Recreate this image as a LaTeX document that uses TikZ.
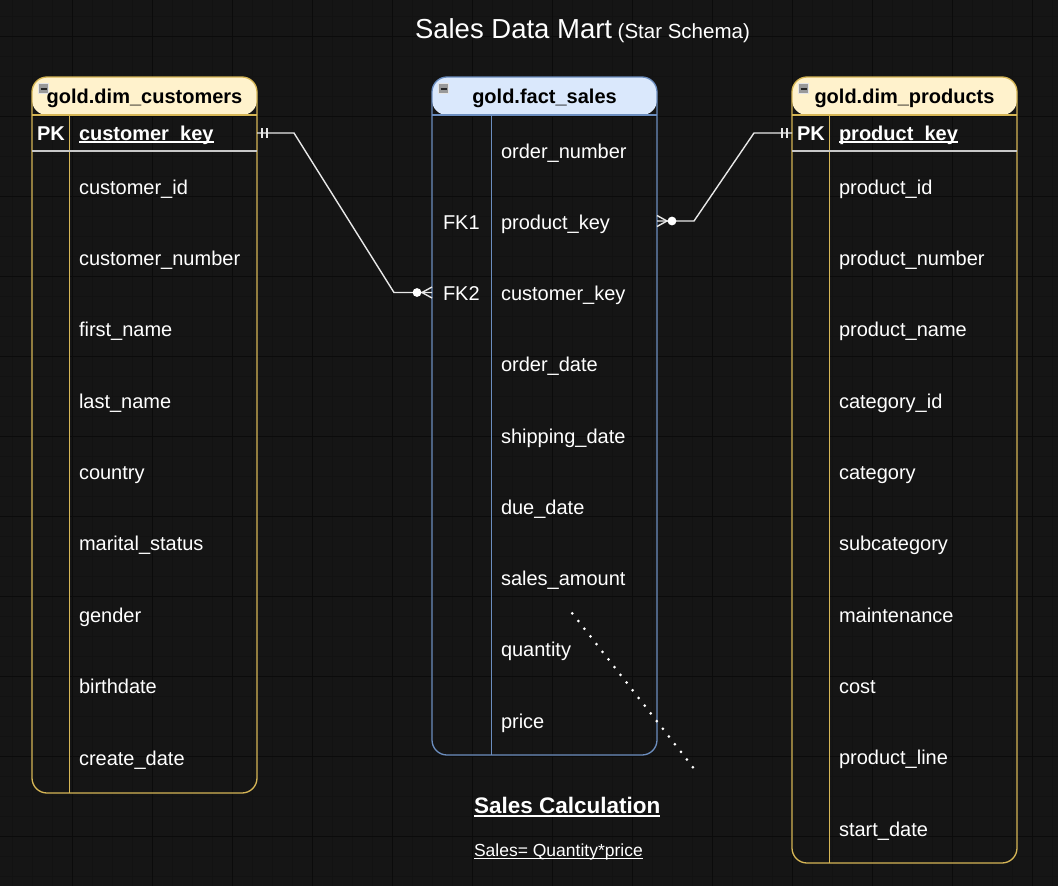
\documentclass[tikz,border=0pt]{standalone}
\usepackage{fontspec}
\setmainfont{Liberation Sans}
\usetikzlibrary{calc}
\definecolor{bgc}{HTML}{151515}
\definecolor{gridminor}{HTML}{121212}
\definecolor{gridmajor}{HTML}{0B0B0B}
\definecolor{goldline}{HTML}{D6B656}
\definecolor{goldfill}{HTML}{FFF2CC}
\definecolor{blueline}{HTML}{6C8EBF}
\definecolor{bluefill}{HTML}{DAE8FC}
\definecolor{connc}{HTML}{E8E8E8}
\definecolor{sepc}{HTML}{C8C8C8}
\begin{document}
\begin{tikzpicture}[x=1pt,y=-1pt,
  txt/.style={inner sep=0pt, outer sep=0pt, text=white, font=\fontsize{20}{24}\selectfont, anchor=base west},
  boldtxt/.style={txt, font=\fontsize{20}{24}\selectfont\bfseries},
  hdrtxt/.style={inner sep=0pt, outer sep=0pt, text=black, font=\fontsize{20}{24}\selectfont\bfseries, anchor=base},
  tbl/.style={rectangle, rounded corners=15pt, line width=1.3pt, inner sep=0pt, outer sep=0pt, anchor=north west, minimum width=225pt},
  ytbl/.style={tbl, draw=goldline, path picture={\fill[goldfill] (path picture bounding box.north west) rectangle ($(path picture bounding box.north east)+(0,38)$);}},
  btbl/.style={tbl, draw=blueline, path picture={\fill[bluefill] (path picture bounding box.north west) rectangle ($(path picture bounding box.north east)+(0,38)$);}},
  conn/.style={draw=connc, line width=1.4pt},
  icon/.style={rectangle, draw=white!80!gray, fill=gray!80, line width=0.6pt, minimum size=10pt, inner sep=0pt, anchor=north west,
    path picture={\draw[black!85, line width=1.8pt] ($(path picture bounding box.west)+(2,0)$) -- ($(path picture bounding box.east)+(-2,0)$);}},
]
\useasboundingbox (0,0) rectangle (1058,886);
\fill[bgc] (0,0) rectangle (1058,886);
% grid
\foreach \gx in {12,32,...,1052} \draw[gridminor, line width=0.8pt] (\gx,0) -- (\gx,886);
\foreach \gy in {16,36,...,876} \draw[gridminor, line width=0.8pt] (0,\gy) -- (1058,\gy);
\foreach \gx in {72,152,...,1032} \draw[gridmajor, line width=1pt] (\gx,0) -- (\gx,886);
\foreach \gy in {36,116,...,836} \draw[gridmajor, line width=1pt] (0,\gy) -- (1058,\gy);

% title
\node[txt] (title) at (415,38) {{\fontsize{27.5}{32}\selectfont Sales Data Mart} {\fontsize{20.5}{24}\selectfont (Star Schema)}};

% ---------- customers ----------
\node[ytbl, minimum height=716pt] (cust) at (32,77) {};
\draw[goldline, line width=1.3pt] (32,115) -- (257,115) (69.3,115) -- (69.3,793);
\draw[sepc, line width=1.5pt] (32,151) -- (257,151);
\node[icon] (custicon) at (38.3,83.3) {};
\node[hdrtxt] (custh) at (144.5,103) {gold.dim\_customers};
\node[boldtxt] (custpkl) at (37,140) {PK};
\node[boldtxt] (custpk) at (79,140) {customer\_key};
\draw[white, line width=1.5pt] ($(custpk.base west)+(0,2)$) -- ($(custpk.base east)+(0,2)$);
\foreach \t [count=\i from 0] in {customer\_id,customer\_number,first\_name,last\_name,country,marital\_status,gender,birthdate,create\_date}
  \node[txt] (cust-\i) at (79,{194+71.375*\i}) {\t};

% ---------- fact ----------
\node[btbl, minimum height=678pt] (fact) at (432,77) {};
\draw[blueline, line width=1.3pt] (432,115) -- (657,115) (491.7,115) -- (491.7,755);
\node[icon] (facticon) at (438.3,83.3) {};
\node[hdrtxt] (facth) at (544.5,103) {gold.fact\_sales};
\foreach \t [count=\i from 0] in {order\_number,product\_key,customer\_key,order\_date,shipping\_date,due\_date,sales\_amount,quantity,price}
  \node[txt] (fact-\i) at (501,{158+71.25*\i}) {\t};
\node[txt] (fk1) at (443,229.25) {FK1};
\node[txt] (fk2) at (443,300.5) {FK2};

% ---------- products ----------
\node[ytbl, minimum height=786pt] (prod) at (792,77) {};
\draw[goldline, line width=1.3pt] (792,115) -- (1017,115) (829.3,115) -- (829.3,863);
\draw[sepc, line width=1.5pt] (792,151) -- (1017,151);
\node[icon] (prodicon) at (798.3,83.3) {};
\node[hdrtxt] (prodh) at (904.5,103) {gold.dim\_products};
\node[boldtxt] (prodpkl) at (797,140) {PK};
\node[boldtxt] (prodpk) at (839,140) {product\_key};
\draw[white, line width=1.5pt] ($(prodpk.base west)+(0,2)$) -- ($(prodpk.base east)+(0,2)$);
\foreach \t [count=\i from 0] in {product\_id,product\_number,product\_name,category\_id,category,subcategory,maintenance,cost,product\_line,start\_date}
  \node[txt] (prod-\i) at (839,{194+71.333*\i}) {\t};

% ---------- connectors ----------
\coordinate (cpkE) at (cust.east |- 0,133);
\coordinate (fk2W) at (fact.west |- 0,292.5);
\coordinate (fk1E) at (fact.east |- 0,221);
\coordinate (ppkW) at (prod.west |- 0,133);

% customers -> fact (FK2)
\draw[conn] (cpkE) -- ($(cpkE)+(37,0)$) -- ($(fk2W)+(-38,0)$) -- (fk2W);
\draw[conn] ($(cpkE)+(5,-5)$) -- ($(cpkE)+(5,5)$) ($(cpkE)+(10,-5)$) -- ($(cpkE)+(10,5)$);
\draw[conn] ($(fk2W)+(0,-5.5)$) -- ($(fk2W)+(-10,0)$) -- ($(fk2W)+(0,5.5)$);
\fill[white] ($(fk2W)+(-15,0)$) circle (4.4pt);

% products -> fact (FK1)
\draw[conn] (fk1E) -- ($(fk1E)+(37,0)$) -- ($(ppkW)+(-38,0)$) -- (ppkW);
\draw[conn] ($(ppkW)+(-5,-5)$) -- ($(ppkW)+(-5,5)$) ($(ppkW)+(-10,-5)$) -- ($(ppkW)+(-10,5)$);
\draw[conn] ($(fk1E)+(0,-5.5)$) -- ($(fk1E)+(10,0)$) -- ($(fk1E)+(0,5.5)$);
\fill[white] ($(fk1E)+(15,0)$) circle (4.4pt);

% dotted line
\coordinate (dotA) at (572.3,613.3);
\coordinate (dotB) at (695.7,770.7);
\draw[white, line width=3pt, line cap=round, dash pattern=on 0pt off 9.78pt] (dotA) -- (dotB);

% sales calculation
\node[txt, font=\fontsize{22.5}{26}\selectfont\bfseries] (scalc) at (474,813) {Sales Calculation};
\draw[white, line width=2pt] ($(scalc.base west)+(0,3)$) -- ($(scalc.base east)+(0,3)$);
\node[txt, font=\fontsize{17.5}{21}\selectfont] (sform) at (474,856.7) {Sales= Quantity*price};
\draw[white, line width=1.1pt] ($(sform.base west)+(0,1.8)$) -- ($(sform.base east)+(0,1.8)$);
\end{tikzpicture}
\end{document}
